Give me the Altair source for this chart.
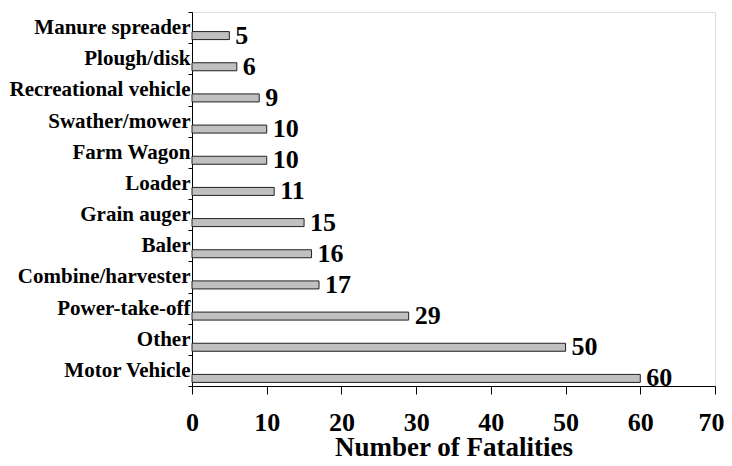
import altair as alt
import pandas as pd

categories = ["Manure spreader", "Plough/disk", "Recreational vehicle", "Swather/mower",
              "Farm Wagon", "Loader", "Grain auger", "Baler", "Combine/harvester",
              "Power-take-off", "Other", "Motor Vehicle"]
values = [5, 6, 9, 10, 10, 11, 15, 16, 17, 29, 50, 60]
x_ticks = [0, 10, 20, 30, 40, 50, 60, 70]

df = pd.DataFrame({"cat": categories, "val": values})
FONT = "Liberation Serif"

y = alt.Y("cat:N", sort=categories, title=None,
          scale=alt.Scale(paddingInner=0, paddingOuter=0),
          axis=alt.Axis(tickBand="extent", tickSize=4, tickColor="black",
                        domainColor="black", labelFont=FONT, labelFontSize=21,
                        labelFontWeight="bold", labelColor="black", labelPadding=-2,
                        labelOffset=0, labelLimit=300))
x = alt.X("val:Q", title="Number of Fatalities",
          scale=alt.Scale(domain=[0, 70], nice=False),
          axis=alt.Axis(values=x_ticks, grid=False, tickSize=8, tickColor="black",
                        domainColor="black", labelFont=FONT, labelFontSize=26,
                        labelFontWeight="bold", labelColor="black", labelPadding=15,
                        labelOffset={"condition": {"test": "datum.value == 70", "value": -4},
                                     "value": 0},
                        titleFont=FONT, titleFontSize=27, titleFontWeight="bold",
                        titleColor="black", titlePadding=-1, labelFlush=False))

bars = alt.Chart(df).mark_bar(height=8, yOffset=8, fill="#c0c0c0", stroke="#222222",
                              strokeWidth=1).encode(x=x, y=y)
labels = alt.Chart(df).mark_text(align="left", baseline="middle", dx=6, dy=8,
                                 font=FONT, fontSize=26, fontWeight="bold",
                                 color="black").encode(x=x, y=y, text="val:Q")

chart = (bars + labels).properties(
    width=523, height=374,
    autosize=alt.AutoSizeParams(type="none"),
    padding={"left": 184, "top": 4, "right": 9, "bottom": 72},
).configure_view(strokeWidth=0, stroke="transparent").configure(background="white")

chart.save("out.html", embed_options={"renderer": "svg", "actions": False})
